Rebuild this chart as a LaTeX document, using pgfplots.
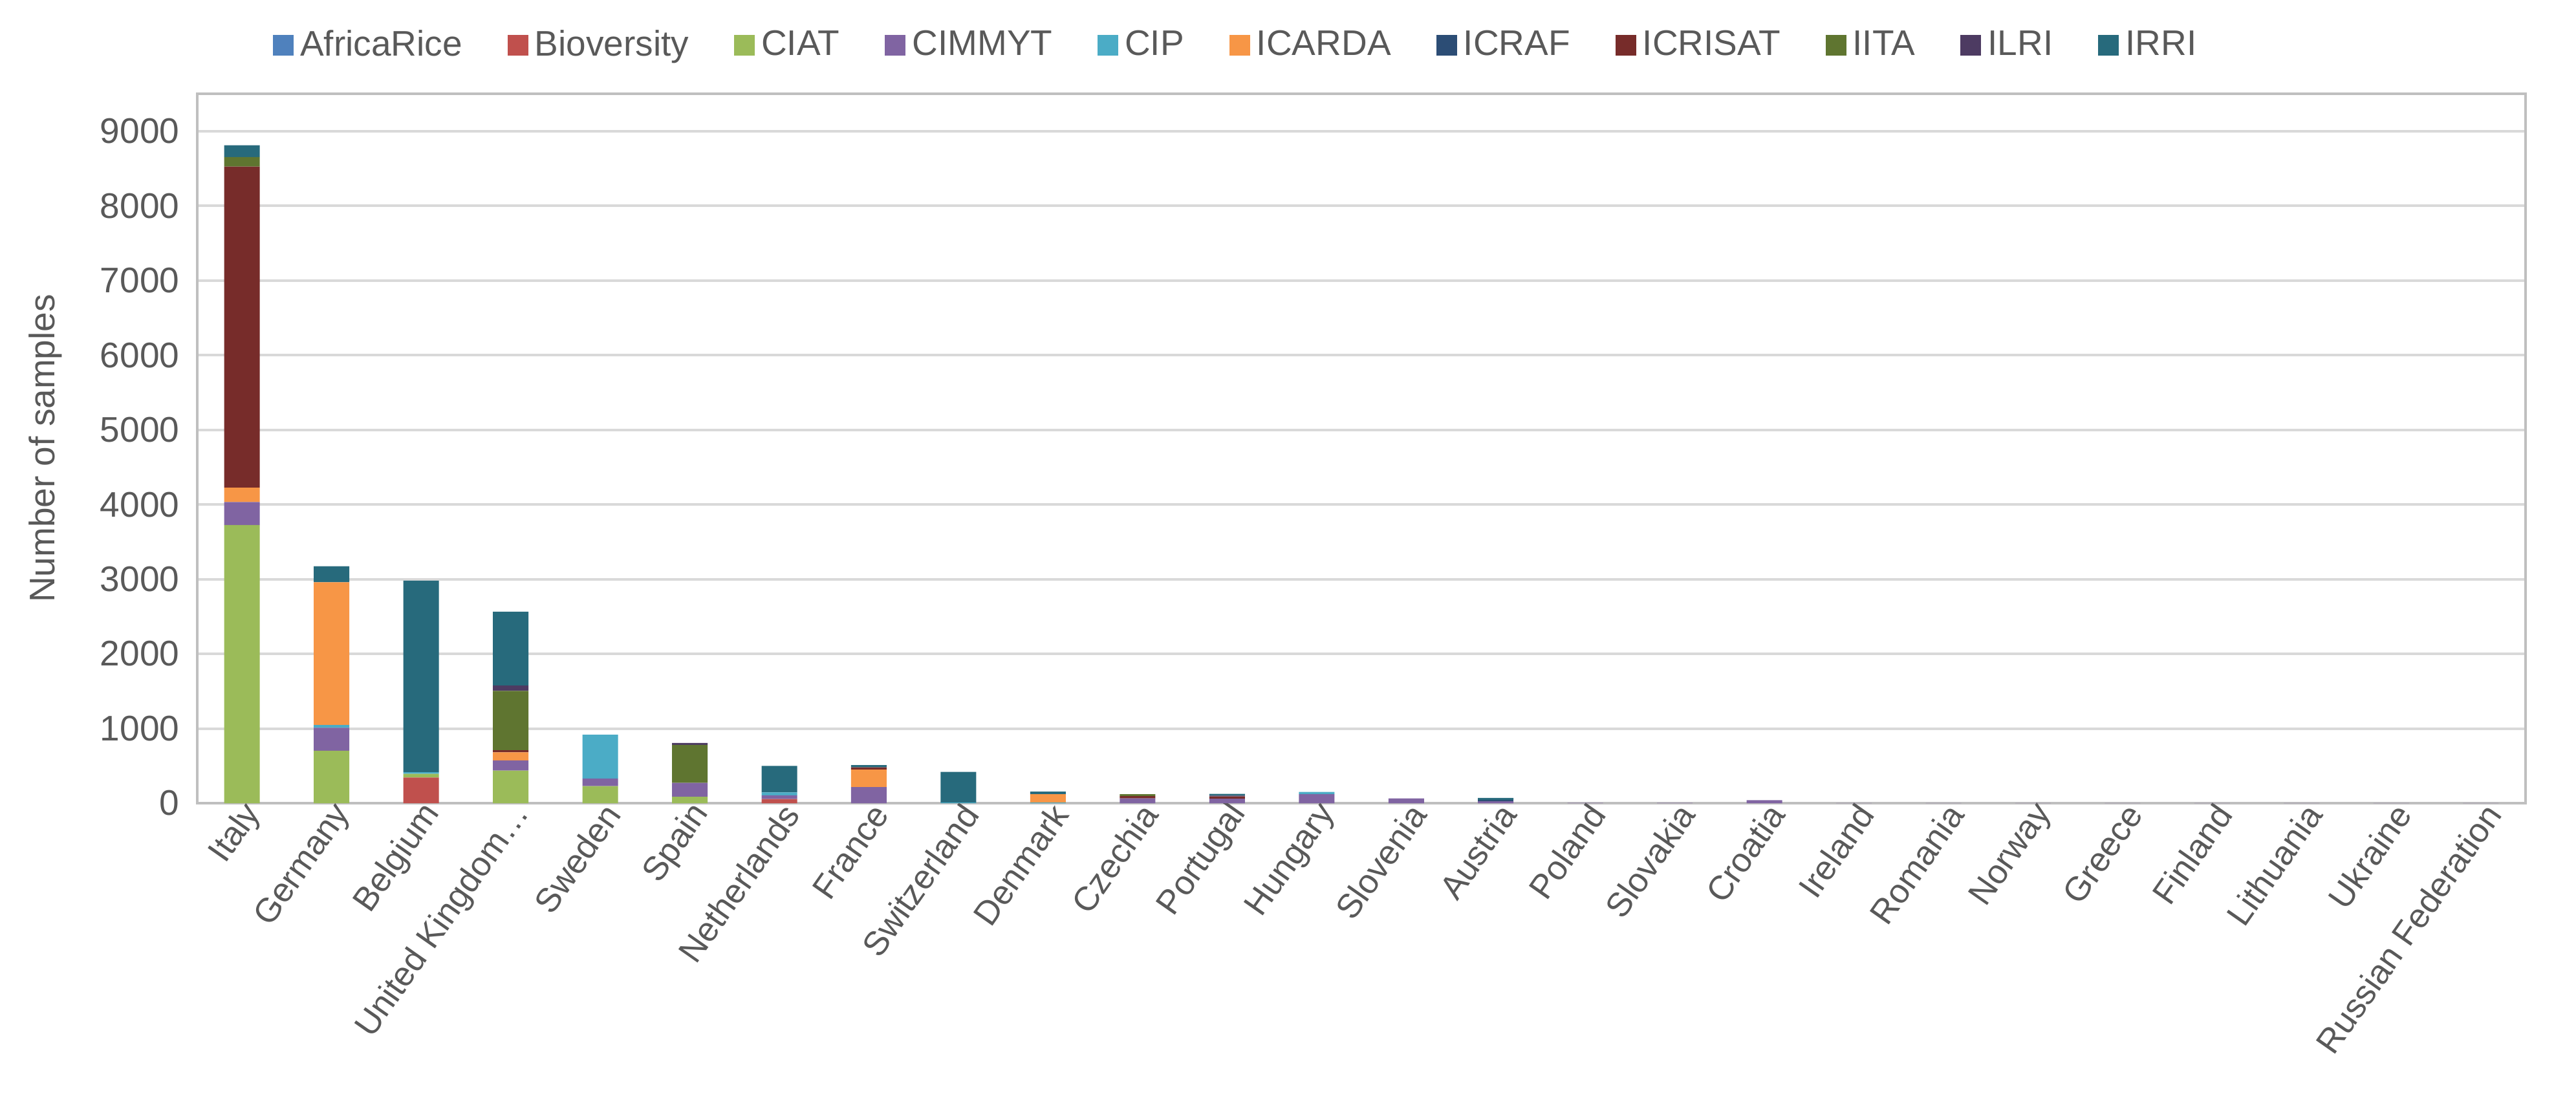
\documentclass[border=0pt]{standalone}
\usepackage{fontspec}
\setmainfont{Liberation Sans}
\usepackage{pgfplots}
\usepackage{pgfplotstable}
\pgfplotsset{compat=1.18}
\definecolor{cAfricaRice}{HTML}{4F81BD}
\definecolor{cBioversity}{HTML}{C0504D}
\definecolor{cCIAT}{HTML}{9BBB59}
\definecolor{cCIMMYT}{HTML}{8064A2}
\definecolor{cCIP}{HTML}{4BACC6}
\definecolor{cICARDA}{HTML}{F79646}
\definecolor{cICRAF}{HTML}{2C4D75}
\definecolor{cICRISAT}{HTML}{772C2A}
\definecolor{cIITA}{HTML}{5F7530}
\definecolor{cILRI}{HTML}{4D3B62}
\definecolor{cIRRI}{HTML}{276A7C}
\definecolor{txt}{HTML}{595959}
\definecolor{gridc}{HTML}{D9D9D9}
\definecolor{boxc}{HTML}{BFBFBF}

\pgfplotstableread{
x AfricaRice Bioversity CIAT CIMMYT CIP ICARDA ICRAF ICRISAT IITA ILRI IRRI
0  0 0   3725 308 0   193  0  4298 129 0  158
1  0 0   702  308 36  1912 0  0    0   0  215
2  0 344 50   0   21  0    0  0    0   0  2565
3  0 0   437  136 0   107  0  29   795 72 988
4  0 0   229  101 587 0    0  0    0   0  0
5  0 0   86   186 0   0    0  0    509 25 0
6  0 55  0    50  40  0    0  0    0   0  355
7  0 0   0    215 0   235  0  30   0   0  30
8  0 0   0    0   10  0    0  0    0   0  410
9  0 0   0    0   10  110  0  0    0   0  35
10 0 0   0    65  0   0    0  30   25  0  0
11 0 0   0    60  0   0    0  30   0   10 25
12 0 0   0    120 30  0    0  0    0   0  0
13 0 0   0    65  0   0    0  0    0   0  0
14 0 0   0    25  0   0    15 0    0   0  30
15 0 0   0    3   0   0    0  0    0   0  0
16 0 0   0    3   0   0    0  0    0   0  0
17 0 0   0    40  0   0    0  0    0   0  0
18 0 0   0    2   0   0    0  0    0   0  0
19 0 0   0    2   0   0    0  0    0   0  0
20 0 0   0    1   0   0    0  0    0   0  0
21 0 0   0    1   0   0    0  0    0   0  0
22 0 0   0    1   0   0    0  0    0   0  0
23 0 0   0    1   0   0    0  0    0   0  0
24 0 0   0    1   0   0    0  0    0   0  0
25 0 0   0    1   0   0    0  0    0   0  0
}\datatable

\begin{document}
\begin{tikzpicture}[font=\fontsize{10.5}{12.6}\selectfont]
\path[use as bounding box] (-61pt,-91.6pt) rectangle (735.6pt,248.4pt);
\begin{axis}[
  scale only axis, width=720pt, height=219.4pt,
  ybar stacked, bar width=11pt,
  xmin=-0.5, xmax=25.5, ymin=0, ymax=9500,
  xtick={0,...,25},
  xticklabels={Italy,Germany,Belgium,United Kingdom…,Sweden,Spain,Netherlands,France,Switzerland,Denmark,Czechia,Portugal,Hungary,Slovenia,Austria,Poland,Slovakia,Croatia,Ireland,Romania,Norway,Greece,Finland,Lithuania,Ukraine,Russian Federation},
  ytick={0,1000,...,9000},
  /pgf/number format/1000 sep={},
  /pgf/number format/assume math mode=true,
  scaled y ticks=false,
  ymajorgrids, grid style={draw=gridc, line width=0.8pt},
  axis line style={draw=boxc, line width=0.8pt},
  major tick length=0pt,
  tick label style={text=txt},
  yticklabel style={font=\fontsize{11}{13}\selectfont, xshift=-2pt},
  xticklabel style={rotate=55, anchor=east, inner sep=1pt, xshift=2pt, yshift=-4pt, font=\fontsize{10.5}{12}\selectfont},
  ylabel={Number of samples},
  ylabel style={at={(axis description cs:-0.0653,0.5)}, anchor=center, text=txt, font=\fontsize{11}{13}\selectfont},
  legend columns=11,
  legend style={at={(0.447,1.068)}, anchor=center, draw=none, fill=none, text=txt,
    font=\fontsize{11}{13}\selectfont,
    /tikz/every even column/.append style={column sep=12pt}},
  legend image code/.code={\fill[#1] (0pt,-3.2pt) rectangle (6.4pt,3.2pt);},
]
\addplot[fill=cAfricaRice, draw=none] table[x=x,y=AfricaRice] {\datatable};
\addplot[fill=cBioversity, draw=none] table[x=x,y=Bioversity] {\datatable};
\addplot[fill=cCIAT, draw=none] table[x=x,y=CIAT] {\datatable};
\addplot[fill=cCIMMYT, draw=none] table[x=x,y=CIMMYT] {\datatable};
\addplot[fill=cCIP, draw=none] table[x=x,y=CIP] {\datatable};
\addplot[fill=cICARDA, draw=none] table[x=x,y=ICARDA] {\datatable};
\addplot[fill=cICRAF, draw=none] table[x=x,y=ICRAF] {\datatable};
\addplot[fill=cICRISAT, draw=none] table[x=x,y=ICRISAT] {\datatable};
\addplot[fill=cIITA, draw=none] table[x=x,y=IITA] {\datatable};
\addplot[fill=cILRI, draw=none] table[x=x,y=ILRI] {\datatable};
\addplot[fill=cIRRI, draw=none] table[x=x,y=IRRI] {\datatable};
\legend{AfricaRice,Bioversity,CIAT,CIMMYT,CIP,ICARDA,ICRAF,ICRISAT,IITA,ILRI,IRRI}
\end{axis}
\end{tikzpicture}
\end{document}
